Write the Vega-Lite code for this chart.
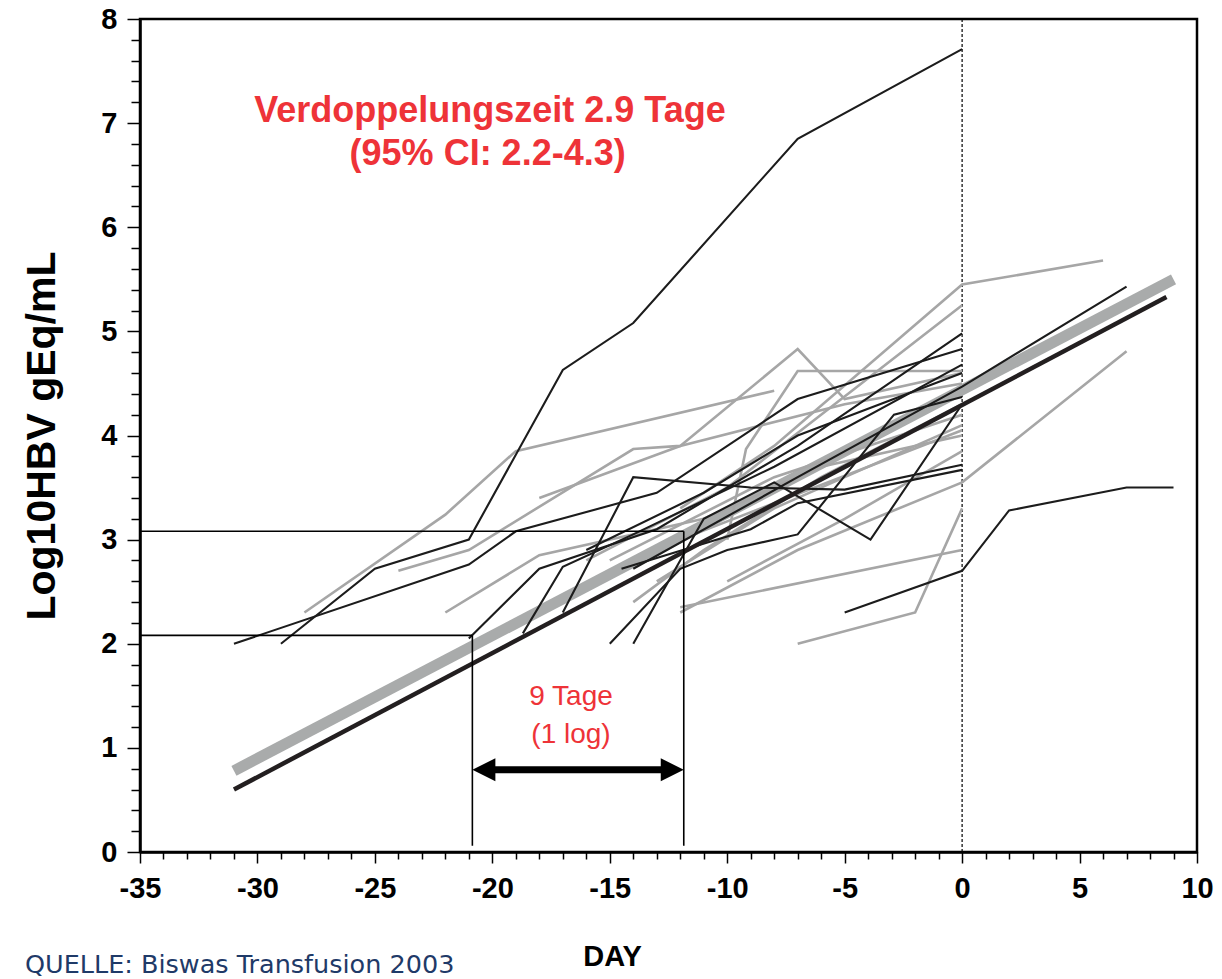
{
  "$schema": "https://vega.github.io/schema/vega-lite/v6.json",
  "width": 1057,
  "height": 833,
  "autosize": "none",
  "padding": {"left": 140, "top": 19, "right": 25, "bottom": 127},
  "background": "white",
  "config": {
    "view": {"stroke": "black", "strokeWidth": 2.5},
    "font": "Liberation Sans"
  },
  "datasets": {
    "blackRuns": [
      {"id": "K1", "d": -29, "v": 2.0}, {"id": "K1", "d": -25, "v": 2.72}, {"id": "K1", "d": -21, "v": 3.0}, {"id": "K1", "d": -17, "v": 4.63}, {"id": "K1", "d": -14, "v": 5.08}, {"id": "K1", "d": -7, "v": 6.85}, {"id": "K1", "d": 0, "v": 7.71},
      {"id": "K2", "d": -31, "v": 2.0}, {"id": "K2", "d": -21, "v": 2.76}, {"id": "K2", "d": -19, "v": 3.08}, {"id": "K2", "d": -13, "v": 3.45}, {"id": "K2", "d": -7, "v": 4.35}, {"id": "K2", "d": 0, "v": 4.83},
      {"id": "K3", "d": -21, "v": 2.05}, {"id": "K3", "d": -18, "v": 2.72}, {"id": "K3", "d": -13, "v": 3.1}, {"id": "K3", "d": -7, "v": 3.9}, {"id": "K3", "d": 0, "v": 4.98},
      {"id": "K4", "d": -17, "v": 2.3}, {"id": "K4", "d": -14, "v": 3.6}, {"id": "K4", "d": -9, "v": 3.5}, {"id": "K4", "d": -5, "v": 3.48}, {"id": "K4", "d": 0, "v": 3.72},
      {"id": "K5", "d": -18.7, "v": 2.1}, {"id": "K5", "d": -17, "v": 2.74}, {"id": "K5", "d": -14, "v": 3.05}, {"id": "K5", "d": -8, "v": 3.7}, {"id": "K5", "d": 0, "v": 4.68},
      {"id": "K6", "d": -15, "v": 2.0}, {"id": "K6", "d": -12, "v": 2.72}, {"id": "K6", "d": -10, "v": 2.9}, {"id": "K6", "d": -7, "v": 3.05}, {"id": "K6", "d": -2.9, "v": 4.2}, {"id": "K6", "d": 0, "v": 4.37},
      {"id": "K7", "d": -14, "v": 2.0}, {"id": "K7", "d": -12.5, "v": 2.6}, {"id": "K7", "d": -11, "v": 3.2}, {"id": "K7", "d": -8, "v": 3.55}, {"id": "K7", "d": -3.9, "v": 3.0}, {"id": "K7", "d": 0, "v": 4.3},
      {"id": "K8", "d": -5, "v": 2.3}, {"id": "K8", "d": 0, "v": 2.7}, {"id": "K8", "d": 2, "v": 3.28}, {"id": "K8", "d": 7, "v": 3.5}, {"id": "K8", "d": 9, "v": 3.5},
      {"id": "K9", "d": -14, "v": 2.72}, {"id": "K9", "d": -7, "v": 3.6}, {"id": "K9", "d": 0, "v": 4.47}, {"id": "K9", "d": 7, "v": 5.43},
      {"id": "K10", "d": -14.5, "v": 2.72}, {"id": "K10", "d": -9, "v": 3.1}, {"id": "K10", "d": -7, "v": 3.35}, {"id": "K10", "d": 0, "v": 3.67},
      {"id": "K11", "d": -16, "v": 2.9}, {"id": "K11", "d": -11, "v": 3.45}, {"id": "K11", "d": -7, "v": 4.0}, {"id": "K11", "d": 0, "v": 4.6}
    ],
    "grayRuns": [
      {"id": "G1", "d": -28, "v": 2.3}, {"id": "G1", "d": -22, "v": 3.24}, {"id": "G1", "d": -19, "v": 3.85}, {"id": "G1", "d": -8, "v": 4.43},
      {"id": "G2", "d": -24, "v": 2.7}, {"id": "G2", "d": -21, "v": 2.9}, {"id": "G2", "d": -14, "v": 3.87}, {"id": "G2", "d": -12, "v": 3.9}, {"id": "G2", "d": -7, "v": 4.83}, {"id": "G2", "d": -5, "v": 4.35}, {"id": "G2", "d": 0, "v": 4.6},
      {"id": "G3", "d": -22, "v": 2.3}, {"id": "G3", "d": -18, "v": 2.85}, {"id": "G3", "d": -11, "v": 3.2}, {"id": "G3", "d": -6, "v": 3.7}, {"id": "G3", "d": 0, "v": 4.0},
      {"id": "G4", "d": -12, "v": 3.3}, {"id": "G4", "d": -8, "v": 3.9}, {"id": "G4", "d": 0, "v": 5.45}, {"id": "G4", "d": 6, "v": 5.68},
      {"id": "G5", "d": -10, "v": 3.0}, {"id": "G5", "d": -9.2, "v": 3.87}, {"id": "G5", "d": -7, "v": 4.62}, {"id": "G5", "d": -4, "v": 4.62}, {"id": "G5", "d": 0, "v": 4.62},
      {"id": "G6", "d": -14, "v": 2.4}, {"id": "G6", "d": -11, "v": 2.9}, {"id": "G6", "d": -6, "v": 3.6}, {"id": "G6", "d": 0, "v": 4.3},
      {"id": "G7", "d": -12, "v": 2.3}, {"id": "G7", "d": -7, "v": 2.9}, {"id": "G7", "d": 0, "v": 3.55}, {"id": "G7", "d": 7, "v": 4.81},
      {"id": "G8", "d": -12, "v": 2.35}, {"id": "G8", "d": 0, "v": 2.9},
      {"id": "G9", "d": -7, "v": 2.0}, {"id": "G9", "d": -2, "v": 2.3}, {"id": "G9", "d": 0, "v": 3.3},
      {"id": "G10", "d": -16, "v": 2.8}, {"id": "G10", "d": -10, "v": 3.5}, {"id": "G10", "d": 0, "v": 5.25},
      {"id": "G11", "d": -13, "v": 2.6}, {"id": "G11", "d": -8, "v": 3.3}, {"id": "G11", "d": 0, "v": 4.1},
      {"id": "G12", "d": -15, "v": 2.8}, {"id": "G12", "d": -8, "v": 3.6}, {"id": "G12", "d": 0, "v": 4.2},
      {"id": "G13", "d": -10, "v": 2.6}, {"id": "G13", "d": -5, "v": 3.2}, {"id": "G13", "d": 0, "v": 3.85},
      {"id": "G14", "d": -12, "v": 3.0}, {"id": "G14", "d": -4, "v": 3.7}, {"id": "G14", "d": 0, "v": 4.05},
      {"id": "G15", "d": -18, "v": 3.4}, {"id": "G15", "d": -12, "v": 3.9}, {"id": "G15", "d": -5, "v": 4.3}, {"id": "G15", "d": 0, "v": 4.5}
    ],
    "fitGray": [{"d": -31, "v": 0.78}, {"d": 9, "v": 5.5}],
    "fitBlack": [{"d": -31, "v": 0.6}, {"d": 8.7, "v": 5.33}],
    "guides": [
      {"d": -35, "v": 3.08, "d2": -11.85, "v2": 3.08},
      {"d": -11.85, "v": 3.08, "d2": -11.85, "v2": 0.06},
      {"d": -35, "v": 2.08, "d2": -20.85, "v2": 2.08},
      {"d": -20.85, "v": 2.08, "d2": -20.85, "v2": 0.06}
    ]
  },
  "encoding": {
    "x": {
      "field": "d", "type": "quantitative",
      "scale": {"domain": [-35, 10], "nice": false, "zero": false},
      "axis": {
        "title": "DAY",
        "titleFont": "Liberation Sans", "titleFontSize": 29, "titleFontWeight": "bold", "titleColor": "black",
        "titleX": 472, "titleY": 90, "titleAnchor": "middle",
        "values": [-35,-34,-33,-32,-31,-30,-29,-28,-27,-26,-25,-24,-23,-22,-21,-20,-19,-18,-17,-16,-15,-14,-13,-12,-11,-10,-9,-8,-7,-6,-5,-4,-3,-2,-1,0,1,2,3,4,5,6,7,8,9,10],
        "labelExpr": "datum.value % 5 === 0 ? '' + datum.value : ''",
        "labelOverlap": false, "labelFlush": false,
        "labelFont": "Liberation Sans", "labelFontSize": 29, "labelFontWeight": "bold", "labelColor": "black", "labelPadding": 11,
        "tickColor": "black", "tickWidth": 1.5,
        "tickSize": {"condition": {"test": "datum.value % 5 === 0", "value": 11}, "value": 7},
        "domainColor": "black", "domainWidth": 2.5, "grid": false
      }
    },
    "y": {
      "field": "v", "type": "quantitative",
      "scale": {"domain": [0, 8], "nice": false},
      "axis": {
        "title": "Log10HBV gEq/mL",
        "titleFont": "Liberation Sans", "titleFontSize": 41, "titleFontWeight": "bold", "titleColor": "black",
        "titlePadding": 37,
        "values": [0,0.2,0.4,0.6,0.8,1,1.2,1.4,1.6,1.8,2,2.2,2.4,2.6,2.8,3,3.2,3.4,3.6,3.8,4,4.2,4.4,4.6,4.8,5,5.2,5.4,5.6,5.8,6,6.2,6.4,6.6,6.8,7,7.2,7.4,7.6,7.8,8],
        "labelExpr": "abs(datum.value - round(datum.value)) < 0.01 ? '' + round(datum.value) : ''",
        "labelOverlap": false, "labelFlush": false,
        "labelFont": "Liberation Sans", "labelFontSize": 29, "labelFontWeight": "bold", "labelColor": "black", "labelPadding": 10,
        "tickColor": "black", "tickWidth": 1.5,
        "tickSize": {"condition": {"test": "abs(datum.value - round(datum.value)) < 0.01", "value": 13}, "value": 9},
        "domainColor": "black", "domainWidth": 2.5, "grid": false
      }
    }
  },
  "layer": [
    {
      "data": {"values": [{"d": 0, "v": 0, "d2": 0, "v2": 8}]},
      "mark": {"type": "rule", "color": "black", "strokeWidth": 1.2, "strokeDash": [3, 2]},
      "encoding": {"x2": {"field": "d2"}, "y2": {"field": "v2"}}
    },
    {
      "data": {"name": "fitGray"},
      "mark": {"type": "line", "color": "#a9abab", "strokeWidth": 11, "strokeCap": "butt"},
      "encoding": {}
    },
    {
      "data": {"name": "grayRuns"},
      "mark": {"type": "line", "color": "#a6a6a6", "strokeWidth": 2.6},
      "encoding": {"detail": {"field": "id"}}
    },
    {
      "data": {"name": "blackRuns"},
      "mark": {"type": "line", "color": "#1c1c1c", "strokeWidth": 2.1},
      "encoding": {"detail": {"field": "id"}}
    },
    {
      "data": {"name": "fitBlack"},
      "mark": {"type": "line", "color": "#231f20", "strokeWidth": 4.5, "strokeCap": "butt"},
      "encoding": {}
    },
    {
      "data": {"name": "guides"},
      "mark": {"type": "rule", "color": "black", "strokeWidth": 1.6},
      "encoding": {"x2": {"field": "d2"}, "y2": {"field": "v2"}}
    },
    {
      "data": {"values": [{"d": -20.2, "v": 0.79, "d2": -12.5, "v2": 0.79}]},
      "mark": {"type": "rule", "color": "black", "strokeWidth": 7},
      "encoding": {"x2": {"field": "d2"}, "y2": {"field": "v2"}}
    },
    {
      "data": {"values": [{"d": -20.85, "v": 0.79, "dir": "left"}, {"d": -11.85, "v": 0.79, "dir": "right"}]},
      "mark": {"type": "point", "filled": true, "color": "black", "opacity": 1, "size": 529},
      "encoding": {
        "shape": {"field": "dir", "type": "nominal", "legend": null,
          "scale": {"domain": ["left", "right"], "range": ["M 0 0 L 2 -1 L 2 1 Z", "M 0 0 L -2 -1 L -2 1 Z"]}}
      }
    },
    {
      "data": {"values": [
        {"d": -20.1, "v": 7.115, "t": "Verdoppelungszeit 2.9 Tage"},
        {"d": -20.2, "v": 6.7, "t": "(95% CI: 2.2-4.3)"}
      ]},
      "mark": {"type": "text", "font": "Liberation Sans", "fontSize": 36, "fontWeight": "bold", "color": "#ee3338", "align": "center", "baseline": "middle"},
      "encoding": {"text": {"field": "t"}}
    },
    {
      "data": {"values": [
        {"d": -16.65, "v": 1.49, "t": "9 Tage"},
        {"d": -16.65, "v": 1.125, "t": "(1 log)"}
      ]},
      "mark": {"type": "text", "font": "Liberation Sans", "fontSize": 28, "color": "#ee3338", "align": "center", "baseline": "middle"},
      "encoding": {"text": {"field": "t"}}
    },
    {
      "data": {"values": [{"d": -39.9, "v": -1.09, "t": "QUELLE: Biswas Transfusion 2003"}]},
      "mark": {"type": "text", "font": "DejaVu Sans", "fontSize": 25.5, "color": "#1f3a68", "align": "left", "baseline": "middle"},
      "encoding": {"text": {"field": "t"}}
    }
  ]
}
